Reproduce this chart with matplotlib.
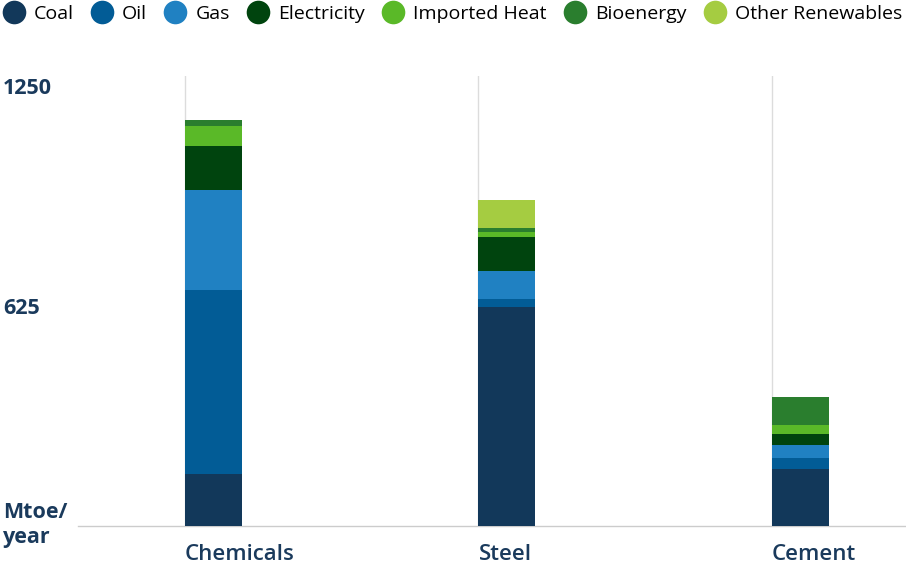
import matplotlib
matplotlib.use("Agg")
import matplotlib.pyplot as plt
from matplotlib.lines import Line2D
import numpy as np

plt.rcParams['font.family'] = ['Open Sans', 'DejaVu Sans']

categories = ["Chemicals", "Steel", "Cement"]
series_names = ["Coal", "Oil", "Gas", "Electricity", "Imported Heat", "Bioenergy", "Other Renewables"]
coal = [149, 623, 163]
oil = [521, 21, 31]
gas = [285, 80, 36]
electricity = [123, 97, 32]
imported_heat = [57, 14, 24]
bioenergy = [19, 11, 80]
other_renewables = [0, 81, 0]
series_values = [coal, oil, gas, electricity, imported_heat, bioenergy, other_renewables]
colors = ["#12385a", "#025c96", "#2081c2", "#00440e", "#5ab928", "#2a7e2e", "#a5cc41"]
yticks = [625, 1250]
ytick_labels = ["625", "1250"]

navy = "#1a3a5c"

fig = plt.figure(figsize=(9.06, 5.67), dpi=100)
ax = fig.add_axes([78/906, 41/567, 828/906, (526-75.7)/567])

x = np.arange(len(categories))
bottom = np.zeros(len(categories))
for name, vals, c in zip(series_names, series_values, colors):
    ax.bar(x, vals, width=0.194, bottom=bottom, align='edge', color=c, linewidth=0, zorder=3, label=name)
    bottom += np.array(vals)

ax.set_xlim(-0.3646, 2.4566)
ax.set_ylim(0, 1279)

for xi in x:
    ax.axvline(xi, color="#dcdcdc", linewidth=1, zorder=1)

for s in ["top", "right", "left"]:
    ax.spines[s].set_visible(False)
ax.spines["bottom"].set_color("#cccccc")
ax.spines["bottom"].set_linewidth(1)

ax.set_xticks(x)
ax.set_xticklabels(categories, fontsize=16, fontweight='semibold', color=navy)
for lab in ax.get_xticklabels():
    lab.set_ha('left')
ax.tick_params(axis='x', length=0, pad=13)

ax.set_yticks(yticks)
ax.set_yticklabels(ytick_labels, fontsize=15.5, fontweight='bold', color=navy)
for lab in ax.get_yticklabels():
    lab.set_ha('left')
ax.tick_params(axis='y', length=0, pad=75*0.72)

fig.text(3/906, 1 - 513/567, "Mtoe/", fontsize=15.5, fontweight='bold', color=navy, ha='left', va='center')
fig.text(3/906, 1 - 537/567, "year", fontsize=15.5, fontweight='bold', color=navy, ha='left', va='center')

handles = [Line2D([0], [0], marker='o', linestyle='none', markersize=17, markerfacecolor=c,
                  markeredgewidth=0) for c in colors]
leg = fig.legend(handles, series_names, loc='upper left', bbox_to_anchor=(0, 1 - 3/567), ncol=7, frameon=False,
                 fontsize=14, handlelength=1.2, handletextpad=0.42, columnspacing=0.87, borderaxespad=0,
                 borderpad=0.1)
for t in leg.get_texts():
    t.set_fontweight('medium')
    t.set_color('#000000')

fig.savefig("out.png", dpi=100)
